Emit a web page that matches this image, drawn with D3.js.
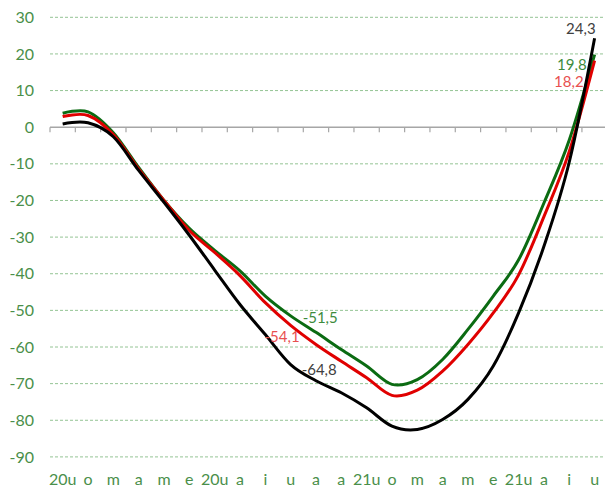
<!DOCTYPE html>
<html><head><meta charset="utf-8">
<script src="https://cdn.jsdelivr.net/npm/d3@7"></script>
<style>body{margin:0;background:#fff}svg{display:block;font-family:Lato,"Open Sans",sans-serif}</style>
</head><body><svg id="c" width="605" height="487"></svg>
<script>
const categories = ["20u","o","m","a","m","e","20u","a","i","u","a","a","21u","o","m","a","m","e","21u","a","i","u"];
const yTicks = [30,20,10,0,-10,-20,-30,-40,-50,-60,-70,-80,-90];
const greenSeries = [3.8,4.2,-1.5,-11,-20,-27.6,-33.6,-39.2,-46.1,-51.5,-56,-60.7,-65.2,-70.2,-68.9,-63.4,-55.2,-46.1,-36.2,-20.7,-3.5,19.8];
const redSeries   = [2.9,3.2,-2,-11.4,-20,-28.2,-34.2,-40.5,-47.9,-54.1,-59.3,-63.9,-68.4,-73.2,-71.8,-66.6,-59.3,-50.7,-40.3,-24.4,-6.6,18.2];
const blackSeries = [0.9,1.2,-2.6,-11.8,-20.5,-29.5,-39,-48.4,-56.6,-64.8,-69.2,-72.5,-76.6,-81.6,-82.5,-79.8,-74.3,-65.2,-50.7,-32.5,-9.5,24.3];
const labelIndex = 9, lastIndex = 21;

const svg = d3.select("#c");
const x = d3.scaleBand().domain(d3.range(categories.length)).range([50, 50 + 25.33*22]).padding(0);
const y = d3.scaleLinear().domain([-90, 30]).range([456.9, 17.3]);
const cx = i => x(i) + x.bandwidth()/2;

// gridlines
svg.append("g").selectAll("line").data(yTicks.filter(t => t !== 0)).join("line")
  .attr("x1", 50).attr("x2", 605).attr("y1", d => y(d)).attr("y2", d => y(d))
  .attr("stroke", "#94c494").attr("stroke-width", 1).attr("stroke-dasharray", "3,2");

// y labels
svg.append("g").selectAll("text").data(yTicks).join("text")
  .attr("x", 34).attr("y", d => y(d)).attr("dy", "0.35em").attr("text-anchor", "end")
  .attr("fill", "#4a8f4a").attr("font-size", 16).text(d => d);

// zero axis with ticks
const za = svg.append("g").attr("transform", `translate(0,${y(0)})`);
za.append("path").attr("d", "M50,0H605").attr("stroke", "#a6a6a6").attr("stroke-width", 1.5);
za.selectAll("line.t").data(d3.range(categories.length + 1)).join("line").attr("class","t")
  .attr("x1", i => 50 + i*x.bandwidth()).attr("x2", i => 50 + i*x.bandwidth())
  .attr("y1", 0).attr("y2", 5).attr("stroke", "#a6a6a6").attr("stroke-width", 1.2);

// x labels
svg.append("g").selectAll("text").data(categories).join("text")
  .attr("x", (d,i) => cx(i)).attr("y", 485).attr("text-anchor", "middle")
  .attr("fill", "#4a8f4a").attr("font-size", 16).text(d => d);

// lines
const line = d3.line().x((d,i) => cx(i)).y(d => y(d)).curve(d3.curveCardinal.tension(0));
[[greenSeries, "#0b6b12"], [redSeries, "#e00000"], [blackSeries, "#000000"]].forEach(([s, c]) => {
  svg.append("path").datum(s).attr("d", line).attr("fill", "none")
    .attr("stroke", c).attr("stroke-width", 3).attr("stroke-linejoin", "round");
});

// data labels
const fmt = v => String(v).replace(".", ",");
const lab = (txt, xx, yy, anchor, col) => svg.append("text").attr("x", xx).attr("y", yy)
  .attr("text-anchor", anchor).attr("fill", col).attr("font-size", 15).text(txt);
lab(fmt(greenSeries[labelIndex]), cx(labelIndex)+12, y(greenSeries[labelIndex])+7, "start", "#3d8c3d");
lab(fmt(redSeries[labelIndex]), cx(labelIndex)+9, y(redSeries[labelIndex])+17, "end", "#e85050");
lab(fmt(blackSeries[labelIndex]), cx(labelIndex)+11, y(blackSeries[labelIndex])+10, "start", "#404040");
lab(fmt(blackSeries[lastIndex]), cx(lastIndex)+1, y(blackSeries[lastIndex])-4, "end", "#404040");
lab(fmt(greenSeries[lastIndex]), cx(lastIndex)-8, y(greenSeries[lastIndex])+15.5, "end", "#3d8c3d");
lab(fmt(redSeries[lastIndex]), cx(lastIndex)-11, y(redSeries[lastIndex])+26, "end", "#e85050");
</script></body></html>
